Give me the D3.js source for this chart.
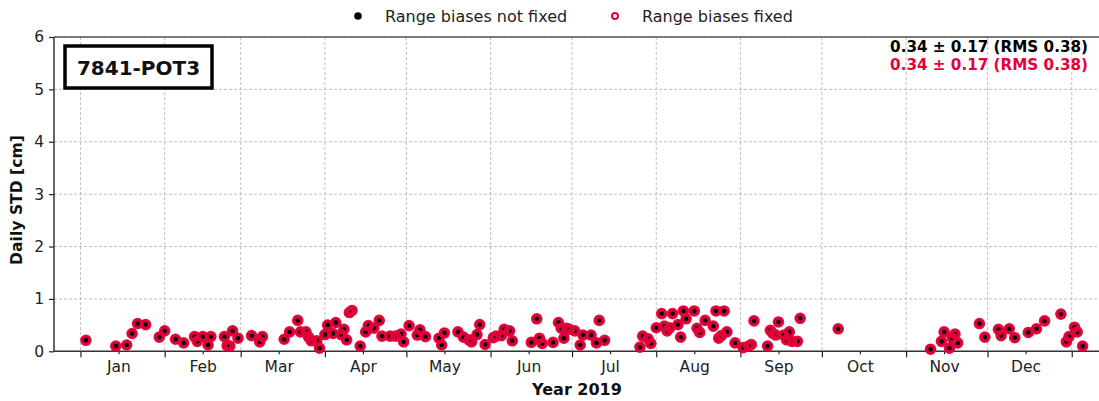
<!DOCTYPE html>
<html>
<head>
<meta charset="utf-8">
<script src="https://cdn.jsdelivr.net/npm/d3@7"></script>
<style>
  html, body { margin: 0; padding: 0; background: #fff; }
  svg { display: block; font-family: "DejaVu Sans", sans-serif; }
</style>
</head>
<body>
<svg id="chart" width="1099" height="401"></svg>
<script>
// ---- data (days since 2019-01-01, daily STD in cm) ----
const days = [2,13,17,19,21,24,29,31,35,38,42,43,45,48,47,53,54,55,56,58,63,66,67,75,77,80,81,83,84,85,87,88,90,91,94,93,96,97,98,99,100,103,105,106,108,110,111,114,116,118,119,121,124,125,127,132,133,134,139,141,143,144,146,147,149,152,153,155,156,158,159,166,168,169,170,174,176,177,178,179,180,182,184,185,188,190,191,193,206,207,209,210,212,214,215,216,217,218,220,221,222,223,226,227,228,230,233,234,237,235,236,238,241,244,246,247,248,253,254,255,257,256,259,260,261,262,264,265,279,313,317,318,320,321,322,323,331,333,338,339,342,344,349,352,355,361,363,364,366,367,369];
const notFixed = [0.21,0.10,0.12,0.34,0.53,0.51,0.27,0.39,0.23,0.16,0.28,0.19,0.28,0.28,0.12,0.28,0.11,0.10,0.39,0.25,0.30,0.18,0.28,0.23,0.37,0.59,0.37,0.37,0.27,0.20,0.20,0.06,0.32,0.50,0.55,0.34,0.32,0.42,0.22,0.74,0.78,0.10,0.37,0.49,0.44,0.59,0.29,0.29,0.29,0.33,0.18,0.49,0.31,0.41,0.28,0.25,0.12,0.35,0.37,0.27,0.22,0.18,0.32,0.51,0.13,0.26,0.29,0.30,0.42,0.39,0.20,0.17,0.62,0.25,0.15,0.17,0.55,0.44,0.25,0.44,0.42,0.39,0.12,0.31,0.31,0.16,0.59,0.21,0.08,0.29,0.24,0.15,0.45,0.72,0.48,0.39,0.45,0.72,0.51,0.27,0.77,0.62,0.77,0.44,0.36,0.59,0.48,0.77,0.77,0.25,0.30,0.37,0.16,0.07,0.10,0.13,0.58,0.10,0.40,0.34,0.56,0.31,0.31,0.22,0.37,0.19,0.19,0.63,0.43,0.04,0.19,0.37,0.06,0.25,0.33,0.16,0.53,0.27,0.42,0.30,0.43,0.26,0.36,0.43,0.58,0.71,0.18,0.28,0.46,0.37,0.10];
const fixed = notFixed.slice(); // identical in the reference
const yTicks = [0,1,2,3,4,5,6];
const monthLabels = ["Jan","Feb","Mar","Apr","May","Jun","Jul","Aug","Sep","Oct","Nov","Dec"];
const seriesNames = ["Range biases not fixed","Range biases fixed"];
const stationLabel = "7841-POT3";
const statsText = "0.34 \u00b1 0.17 (RMS 0.38)";
const xLabel = "Year 2019";
const yLabel = "Daily STD [cm]";

const RED = "#e4003a";
const svg = d3.select("#chart");
const m = {left: 54, right: 1099, top: 37, bottom: 351.3};

const t0 = new Date(2019,0,1);
const x = d3.scaleTime()
  .domain([d3.timeHour.offset(t0, -9.75*24), d3.timeHour.offset(new Date(2020,0,1), 9.3*24)])
  .range([m.left, 1097]);
const y = d3.scaleLinear().domain([0,6]).range([m.bottom, m.top]);

const majors = d3.timeMonth.range(new Date(2019,0,1), new Date(2020,0,2));
const minors = monthLabels.map((_, i) => new Date(2019, i, 15));

// grid
const g = svg.append("g");
g.selectAll(".vg").data(majors).join("line")
  .attr("x1", d => x(d)).attr("x2", d => x(d))
  .attr("y1", m.top).attr("y2", m.bottom)
  .attr("stroke", "#b0b0b0").attr("stroke-width", 0.8).attr("stroke-dasharray", "3,2");
g.selectAll(".hg").data(yTicks.slice(1)).join("line")
  .attr("x1", m.left).attr("x2", m.right)
  .attr("y1", d => y(d)).attr("y2", d => y(d))
  .attr("stroke", "#b0b0b0").attr("stroke-width", 0.8).attr("stroke-dasharray", "3,2");

// axes
const xMajor = d3.axisBottom(x).tickValues(majors).tickFormat("").tickSize(6);
const xMinor = d3.axisBottom(x).tickValues(minors).tickFormat((d,i) => monthLabels[d.getMonth()]).tickSize(3).tickPadding(7);
const yAxis = d3.axisLeft(y).tickValues(yTicks).tickFormat(d3.format("d")).tickSize(5).tickPadding(5);

function styleAxis(sel) {
  sel.select(".domain").remove();
  sel.selectAll("line").attr("stroke", "#222").attr("stroke-width", 1.2);
  sel.selectAll("text").attr("fill", "#222").style("font-size", "15.5px").style("font-family", "DejaVu Sans");
}
svg.append("g").attr("transform", `translate(0,${m.bottom})`).call(xMajor).call(styleAxis);
svg.append("g").attr("transform", `translate(0,${m.bottom})`).call(xMinor).call(styleAxis);
svg.append("g").attr("transform", `translate(${m.left},0)`).call(yAxis).call(styleAxis);

// spines
svg.append("line").attr("x1", m.left).attr("x2", m.left).attr("y1", m.top).attr("y2", m.bottom).attr("stroke", "#333").attr("stroke-width", 1.5);
svg.append("line").attr("x1", m.left).attr("x2", m.right).attr("y1", m.bottom).attr("y2", m.bottom).attr("stroke", "#333").attr("stroke-width", 1.5);
svg.append("line").attr("x1", m.left).attr("x2", m.right).attr("y1", m.top).attr("y2", m.top).attr("stroke", "#555").attr("stroke-width", 1.5);

// points
const pts = days.map((d, i) => ({date: d3.timeDay.offset(t0, d), a: notFixed[i], b: fixed[i]}));
svg.append("g").selectAll("circle").data(pts).join("circle")
  .attr("cx", d => x(d.date)).attr("cy", d => y(d.a)).attr("r", 4.6).attr("fill", "#000");
svg.append("g").selectAll("circle").data(pts).join("circle")
  .attr("cx", d => x(d.date)).attr("cy", d => y(d.b)).attr("r", 4).attr("fill", "none")
  .attr("stroke", RED).attr("stroke-width", 3.6).attr("stroke-opacity", 0.95);

// station label box
svg.append("rect").attr("x", 65).attr("y", 46).attr("width", 147).attr("height", 42)
  .attr("fill", "#fff").attr("stroke", "#000").attr("stroke-width", 3.5);
svg.append("text").attr("x", 138.5).attr("y", 74.5).attr("text-anchor", "middle")
  .style("font-size", "20px").style("font-weight", "bold").attr("fill", "#111").text(stationLabel);

// stats
svg.append("text").attr("x", 1088).attr("y", 51.5).attr("text-anchor", "end")
  .style("font-size", "15.2px").style("font-weight", "bold").attr("fill", "#000").text(statsText);
svg.append("text").attr("x", 1088).attr("y", 69.5).attr("text-anchor", "end")
  .style("font-size", "15.2px").style("font-weight", "bold").attr("fill", RED).text(statsText);

// legend
const lg = svg.append("g");
lg.append("circle").attr("cx", 358).attr("cy", 16).attr("r", 3.8).attr("fill", "#000");
lg.append("text").attr("x", 385).attr("y", 21.5).style("font-size", "16px").attr("fill", "#222").text(seriesNames[0]);
lg.append("circle").attr("cx", 615).attr("cy", 16).attr("r", 3).attr("fill", "none").attr("stroke", RED).attr("stroke-width", 2);
lg.append("text").attr("x", 642).attr("y", 21.5).style("font-size", "16px").attr("fill", "#222").text(seriesNames[1]);

// axis labels
svg.append("text").attr("x", 577).attr("y", 395).attr("text-anchor", "middle")
  .style("font-size", "16px").style("font-weight", "bold").attr("fill", "#111").text(xLabel);
svg.append("text").attr("transform", "translate(22,200) rotate(-90)").attr("text-anchor", "middle")
  .style("font-size", "15.6px").style("font-weight", "bold").attr("fill", "#111").text(yLabel);
</script>
</body>
</html>
